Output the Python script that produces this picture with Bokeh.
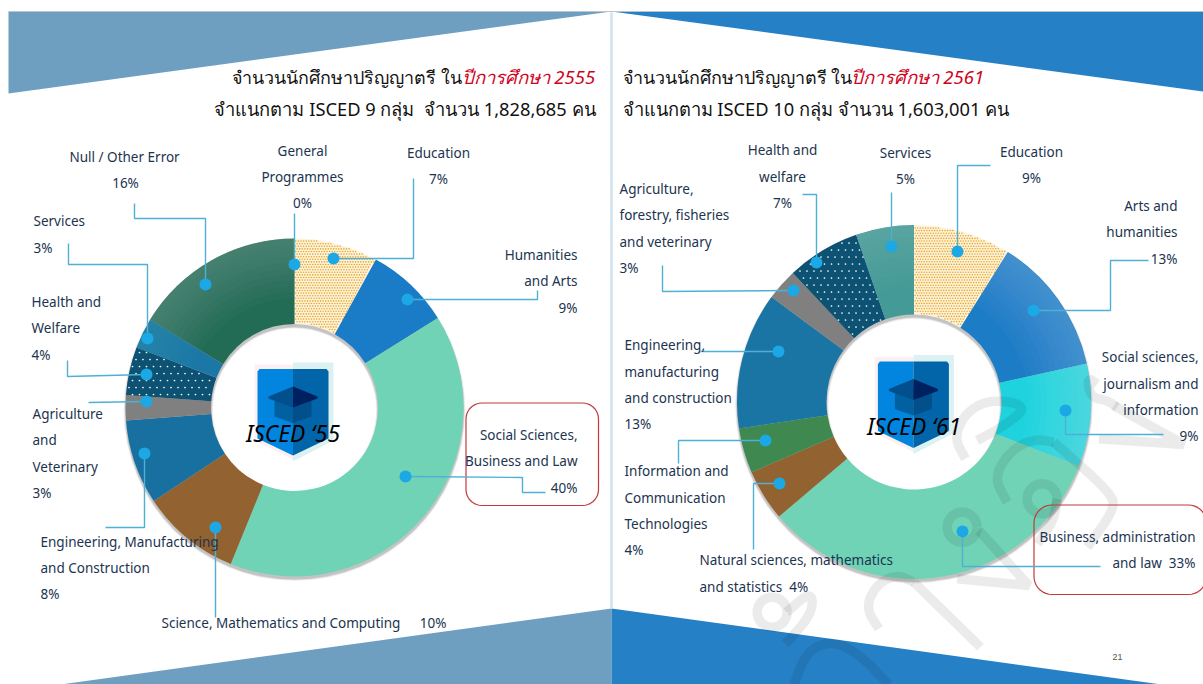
import numpy as np
from bokeh.plotting import figure
from bokeh.models import Range1d
from bokeh.core.properties import value
from bokeh.embed import file_html
from bokeh.resources import INLINE

# ---------- data ----------
sectors_55 = ["Education", "Humanities and Arts", "Social Sciences, Business and Law",
              "Science, Mathematics and Computing", "Engineering, Manufacturing and Construction",
              "Agriculture and Veterinary", "Health and Welfare", "Services", "Null / Other Error",
              "General Programmes"]
shares_55 = [8.0, 8.1, 40.0, 9.5, 8.1, 2.4, 4.6, 2.9, 16.3, 0.0]
sectors_61 = ["Education", "Arts and humanities", "Social sciences, journalism and information",
              "Business, administration and law", "Natural sciences, mathematics and statistics",
              "Information and Communication Technologies", "Engineering, manufacturing and construction",
              "Agriculture, forestry, fisheries and veterinary", "Health and welfare", "Services"]
shares_61 = [8.9, 12.6, 9.4, 32.9, 4.7, 4.1, 12.5, 2.9, 6.7, 5.3]

colors_55 = ["#fdf3dc", "#1a7bc6", "#70d3b6", "#936231", "#17709f", "#808080", "#0d5272", "#1b78a6", "#226c55", "#ffffff"]
colors_61 = ["#fdf3dc", "#1d7cc6", "#1ed2de", "#70d3b6", "#936231", "#3f8850", "#1a74a4", "#808080", "#0d5272", "#449a96"]
texture_55 = ["fine", None, None, None, None, None, "sparse", None, None, None]
texture_61 = ["fine", None, None, None, None, None, None, None, "sparse", None]
sheen_55 = [0, 0, 0, 0, 0, 0, 0, .08, .2, 0]
sheen_61 = [0, .2, .22, 0, 0, 0, 0, 0, 0, .12]

title_55 = ["จำนวนนักศึกษาปริญญาตรี ใน", "ปีการศึกษา 2555", "จำแนกตาม ISCED 9 กลุ่ม  จำนวน 1,828,685 คน"]
title_61 = ["จำนวนนักศึกษาปริญญาตรี ใน", "ปีการศึกษา 2561", "จำแนกตาม ISCED 10 กลุ่ม จำนวน 1,603,001 คน"]
center_55, center_61, page_no = "ISCED ‘55", "ISCED ‘61", "21"

# ---------- layout (reference pixels) ----------
TXT = "#1c3450"
FONT = "Noto Sans"
LINE = "#4fb0d6"
DOT = "#1ba8e4"
W, H = 1203, 684
TEXTURES = {"fine": (2.6, 1.6, "#e9a82c"), "sparse": (7.0, 1.7, "#ffffff")}


def Y(sy):
    return 684 - np.asarray(sy, dtype=float)


p = figure(width=W, height=H, output_backend="svg", toolbar_location=None,
           x_range=Range1d(0, W), y_range=Range1d(0, H),
           min_border=0, outline_line_color=None, background_fill_color="white")
p.axis.visible = False
p.grid.visible = False


def poly(pts, color, alpha=1.0):
    xs, ys = zip(*pts)
    p.patch(list(xs), list(Y(ys)), fill_color=color, fill_alpha=alpha, line_color=None)


# bands
poly([(8, 11), (611, 11), (8, 93)], "#6f9fc0")
poly([(611, 11), (1203, 11), (1203, 91)], "#2680c6")
poly([(611, 608), (611, 684), (60, 684)], "#6f9fc0")
poly([(611, 608), (611, 684), (1161, 684)], "#2680c6")
p.line([8, 1203], list(Y([11, 11])), line_color="#b9c4cc", line_width=1)
p.line([611, 611], list(Y([12, 608])), line_color="#cfe2f0", line_width=2.5)


def donut(cx, cy, ro, ri, shares, colors, textures, sheen):
    # soft shadow, offset downward: shows below the outer rim and at the top of the hole
    for k, a in [(2.0, .05), (1.3, .08), (.6, .12)]:
        p.annular_wedge([cx], list(Y([cy + 2.5])), inner_radius=ri - k, outer_radius=ro + k,
                        start_angle=0, end_angle=2 * np.pi, fill_color="#000000", fill_alpha=a, line_color=None)
    v = np.array(shares, dtype=float)
    edges = np.concatenate([[0], np.cumsum(v)]) / v.sum() * 2 * np.pi
    for i in range(len(v)):
        if v[i] <= 0:
            continue
        a0, a1 = np.pi / 2 - edges[i], np.pi / 2 - edges[i + 1]
        p.annular_wedge([cx], list(Y([cy])), inner_radius=ri, outer_radius=ro,
                        start_angle=a0, end_angle=a1, direction="clock",
                        fill_color=colors[i], line_color=None)
        if sheen[i]:
            # stacked white rings give the lighter outer rim of some slices
            for j in range(10):
                r0 = ri + (ro - ri) * (.3 + .7 * j / 10)
                p.annular_wedge([cx], list(Y([cy])), inner_radius=r0, outer_radius=ro,
                                start_angle=a0, end_angle=a1, direction="clock",
                                fill_color="#ffffff", fill_alpha=sheen[i] / 10, line_color=None)
        if textures[i]:
            # staggered dot lattice masked to the slice
            step, size, col = TEXTURES[textures[i]]
            gx, gy = np.meshgrid(np.arange(cx - ro, cx + ro, step), np.arange(-ro, ro, step))
            gx = gx + (np.round((gy + ro) / step) % 2) * step / 2
            dx, dy = gx - cx, gy
            rr = np.hypot(dx, dy)
            th = np.arctan2(dx, dy) % (2 * np.pi)
            m = (rr > ri + 1) & (rr < ro - 1) & (th > edges[i] + .004) & (th < edges[i + 1] - .004)
            p.scatter(list(gx[m]), list(Y(cy) + gy[m]), marker="circle", size=size,
                      fill_color=col, line_color=None)


donut(294, 407, 169, 83.5, shares_55, colors_55, texture_55, sheen_55)
donut(913.5, 401.5, 177, 87.5, shares_61, colors_61, texture_61, sheen_61)


def shield(dx, dy):
    def P(pts, c, a=1.0):
        poly([(x + dx, y + dy) for x, y in pts], c, a)
    P([(254, 364), (292.5, 364), (292.5, 459), (254, 440)], "#fdf0f2")
    P([(292.5, 362), (333, 362), (333, 440), (292.5, 461)], "#dcf1f2")
    P([(257, 371), (259, 368.5), (292.5, 368.5), (292.5, 455), (257, 438)], "#0285df")
    P([(292.5, 368.5), (326, 368.5), (328, 371), (328, 438), (292.5, 455)], "#0365a9")
    P([(274, 394), (292.5, 394), (292.5, 422.5), (274, 416)], "#01609f")
    P([(292.5, 394), (311, 394), (311, 416), (292.5, 422.5)], "#014f8b")
    P([(268, 396), (292.5, 386), (292.5, 407), (268, 398)], "#024f8e")
    P([(292.5, 386), (317, 396), (317, 398), (292.5, 407)], "#002160")


shield(0, 0)
shield(620.4, -7.5)


# watermark
def chaikin(pts, n=3):
    pts = np.array(pts, dtype=float)
    for _ in range(n):
        q = pts[:-1] * .75 + pts[1:] * .25
        r = pts[:-1] * .25 + pts[1:] * .75
        mid = np.empty((len(q) * 2, 2))
        mid[0::2], mid[1::2] = q, r
        pts = np.vstack([pts[:1], mid, pts[-1:]])
    return pts


def ring(cx, cy, r):
    t = np.linspace(0, 2 * np.pi, 40)
    return np.c_[cx + r * np.cos(t), cy + r * np.sin(t)]


strokes = [
    chaikin([(1190, 40), (1160, 20), (1170, 80), (1220, 90), (1250, 110)]),
    np.array([(1240, 105), (1450, 222), (1195, 205)], dtype=float),
    chaikin([(795, 265), (760, 200), (800, 120), (880, 85), (985, 108), (905, 170), (830, 210)]),
    chaikin([(920, 395), (880, 320), (930, 240), (1000, 205), (1060, 215)]),
    chaikin([(1060, 215), (1235, 370), (1240, 420), (1160, 530)], 2),
    ring(1025, 385, 45),
    chaikin([(1070, 385), (1060, 450), (1010, 520)]),
    ring(785, 470, 45),
    np.array([(835, 480), (985, 645), (770, 625)], dtype=float),
    chaikin([(535, 775), (495, 710), (530, 640), (590, 612), (640, 635)]),
    np.array([(640, 635), (840, 830)], dtype=float),
    ring(215, 725, 45),
    chaikin([(258, 725), (335, 660), (335, 730), (255, 820)]),
    chaikin([(280, 942), (320, 840), (400, 810), (480, 855), (565, 942)]),
]
p.multi_line([list(700 + s[:, 0] / 3) for s in strokes], [list(Y(370 + s[:, 1] / 3)) for s in strokes],
             line_color="#000000", line_alpha=.08, line_width=9.5)


# red boxes
def rbox(x0, y0, x1, y1, r):
    a = np.linspace(0, np.pi / 2, 10)
    xs = np.r_[x1 - r + r * np.sin(a), x1 - r + r * np.cos(a), x0 + r - r * np.sin(a), x0 + r - r * np.cos(a), x1 - r]
    ys = np.r_[y0 + r - r * np.cos(a), y1 - r + r * np.sin(a), y1 - r + r * np.cos(a), y0 + r - r * np.sin(a), y0]
    p.line(list(xs), list(Y(ys)), line_color="#c23a3a", line_width=1.2)


rbox(465.5, 402.5, 598, 505, 16)
rbox(1033.5, 504.5, 1206, 594, 18)

# leader lines and dots
leaders = [
    [(333, 258), (413, 258), (413, 178)],
    [(294, 264), (294, 213)],
    [(407, 299), (537, 299), (537, 290)],
    [(405, 476), (522, 477), (522, 492), (545, 492)],
    [(215, 527), (215, 617)],
    [(144, 453), (144, 527), (105, 527)],
    [(146, 401), (88, 402)],
    [(146, 374), (67, 376), (67, 360)],
    [(147, 338), (147, 264), (68, 264), (68, 243)],
    [(205, 284), (205, 218), (134, 218), (134, 203)],
    [(957, 251), (957, 165), (990, 165)],
    [(891, 246), (891, 192)],
    [(816, 262), (816, 194), (802, 194)],
    [(793, 290), (662, 291), (662, 265)],
    [(778, 351), (700, 351)],
    [(765, 440), (678, 440), (678, 463)],
    [(779, 483), (753, 483), (753, 549)],
    [(962, 531), (962, 566), (1100, 566)],
    [(1065, 410), (1065, 434), (1163, 434)],
    [(1033, 310), (1110, 310), (1110, 260), (1148, 260)],
]
p.multi_line([[a for a, _ in l] for l in leaders], [list(Y([b for _, b in l])) for l in leaders],
             line_color=LINE, line_width=1.4)
p.circle([l[0][0] for l in leaders], list(Y([l[0][1] for l in leaders])), radius=6,
         fill_color=DOT, line_color=None)

# category labels: (x, y of line centre, align, text)
labels = [
    (69, 157, "left", "Null / Other Error"), (125, 183, "center", "16%"),
    (302, 151, "center", "General"), (302, 177, "center", "Programmes"), (302, 203, "center", "0%"),
    (438, 153, "center", "Education"), (438, 179, "center", "7%"),
    (577, 255, "right", "Humanities"), (577, 281, "right", "and Arts"), (577, 308, "right", "9%"),
    (33, 221, "left", "Services"), (33, 248, "left", "3%"),
    (31, 302, "left", "Health and"), (31, 328, "left", "Welfare"), (31, 355, "left", "4%"),
    (32, 414, "left", "Agriculture"), (32, 440, "left", "and"), (32, 467, "left", "Veterinary"), (32, 493, "left", "3%"),
    (40, 542, "left", "Engineering, Manufacturing"), (40, 568, "left", "and Construction"), (40, 594, "left", "8%"),
    (161, 623, "left", "Science, Mathematics and Computing"), (446, 623, "right", "10%"),
    (577, 435, "right", "Social Sciences,"), (577, 461, "right", "Business and Law"), (577, 488, "right", "40%"),
    (782, 150, "center", "Health and"), (782, 177, "center", "welfare"), (782, 203, "center", "7%"),
    (905, 153, "center", "Services"), (905, 179, "center", "5%"),
    (1031, 152, "center", "Education"), (1031, 178, "center", "9%"),
    (1177, 206, "right", "Arts and"), (1177, 232, "right", "humanities"), (1177, 259, "right", "13%"),
    (1198, 357, "right", "Social sciences,"), (1198, 384, "right", "journalism and"),
    (1198, 410, "right", "information"), (1198, 436, "right", "9%"),
    (1195, 537, "right", "Business, administration"), (1195, 563, "right", "and law\u00a0\u00a033%"),
    (619, 189, "left", "Agriculture,"), (619, 215, "left", "forestry, fisheries"),
    (619, 242, "left", "and veterinary"), (619, 268, "left", "3%"),
    (624, 345, "left", "Engineering,"), (624, 372, "left", "manufacturing"),
    (624, 398, "left", "and construction"), (624, 424, "left", "13%"),
    (624, 471, "left", "Information and"), (624, 498, "left", "Communication"),
    (624, 524, "left", "Technologies"), (624, 550, "left", "4%"),
    (699, 560, "left", "Natural sciences, mathematics"), (699, 587, "left", "and statistics\u00a0\u00a04%"),
]
for x, y, al, t in labels:
    p.text([x], list(Y([y - 1])), text=[t], text_align=al, text_baseline="middle", text_color=TXT,
           text_font=value(FONT), text_font_size="13.5px")


def txt(x, y, t, size, color="#111111", align="left", style="normal", font="Noto Sans"):
    p.text([x], list(Y([y - 1])), text=[t], text_align=align, text_baseline="middle", text_color=color,
           text_font=value(font), text_font_size=size, text_font_style=style)


def nb(s):
    return s.replace(" ", "\u00a0")


txt(461, 77, title_55[0], "17.9px", align="right")
txt(461, 77, title_55[1], "18.5px", color="#d0021b", style="italic")
txt(595, 109, nb(title_55[2]), "18.3px", align="right")
txt(622, 77, title_61[0], "17.9px")
txt(850, 77, title_61[1], "18.5px", color="#d0021b", style="italic")
txt(622, 109, nb(title_61[2]), "18.3px")
txt(292.5, 434, center_55, "22.8px", color="#000000", align="center", style="italic")
txt(913.5, 427, center_61, "22.8px", color="#000000", align="center", style="italic")
txt(1117, 657, page_no, "9px", color="#555555", align="center", font="Liberation Sans")

open("out.html", "w").write(file_html(p, INLINE))
